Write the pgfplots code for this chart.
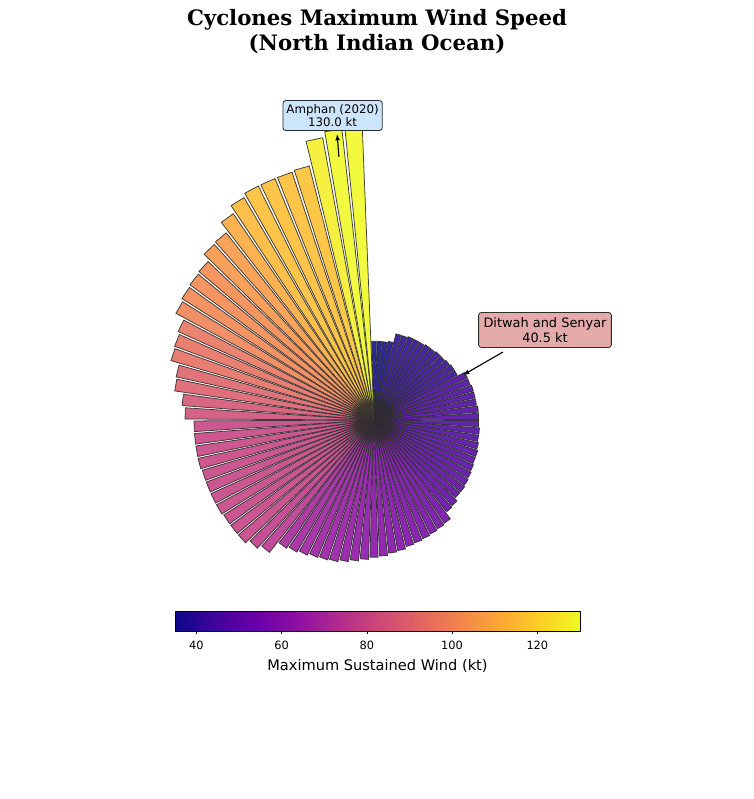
\documentclass[border=0pt]{standalone}
\usepackage{fontspec}
\setmainfont{DejaVu Sans}
\newfontfamily\titlefont{DejaVu Serif}
\usepackage{pgfplots}
\usepackage{pgfplotstable}
\pgfplotsset{compat=1.18}
\usetikzlibrary{arrows.meta}

% plasma stops
\definecolor{pl0}{RGB}{13,8,135}
\definecolor{pl1}{RGB}{65,4,157}
\definecolor{pl2}{RGB}{106,0,168}
\definecolor{pl3}{RGB}{143,13,164}
\definecolor{pl4}{RGB}{177,42,144}
\definecolor{pl5}{RGB}{204,71,120}
\definecolor{pl6}{RGB}{225,100,98}
\definecolor{pl7}{RGB}{242,132,75}
\definecolor{pl8}{RGB}{252,166,54}
\definecolor{pl9}{RGB}{252,206,37}
\definecolor{pl10}{RGB}{240,249,33}
\definecolor{edgecol}{RGB}{45,45,45}
\definecolor{boxblue}{RGB}{204,229,250}
\definecolor{boxred}{RGB}{229,170,170}

\pgfplotsset{colormap={plasma}{rgb255=(13,8,135) rgb255=(65,4,157) rgb255=(106,0,168)
  rgb255=(143,13,164) rgb255=(177,42,144) rgb255=(204,71,120) rgb255=(225,100,98)
  rgb255=(242,132,75) rgb255=(252,166,54) rgb255=(252,206,37) rgb255=(240,249,33)}}

% max sustained wind (kt), sorted; bar i points 4*i degrees clockwise from north
\pgfplotstableread{
bar kt
0 35
1 35
2 35
3 35.5
4 39.5
5 39.5
6 40
7 40
8 40
9 40.5
10 40.5
11 41
12 41
13 41.5
14 42
15 42
16 45.5
17 45.5
18 46
19 46
20 46
21 46.5
22 46.5
23 46.5
24 47
25 47
26 47.5
27 48
28 48
29 48.5
30 49
31 49.5
32 50
33 50
34 51.5
35 52
36 55.5
37 56
38 56.5
39 57
40 57.5
41 58
42 59
43 59.5
44 60.5
45 61
46 62
47 63
48 64
49 65
50 65.5
51 66
52 67
53 68
54 69
55 75
56 77
57 79
58 79
59 79
60 79.5
61 79.5
62 79.5
63 79.5
64 80
65 80
66 80
67 80
68 84
69 85.5
70 89.5
71 90
72 94
73 94.5
74 95.5
75 100
76 101
77 101.5
78 102
79 105.5
80 106
81 111
82 114.5
83 116
84 116
85 116
86 116.5
87 127.5
88 130
89 130
}\winds

\begin{document}
\begin{tikzpicture}
\path[use as bounding box] (0,0) rectangle (542.88pt,575.28pt);

\node[font=\titlefont\bfseries\fontsize{15.3}{18}\selectfont, align=center]
  at (271.44pt,552.6pt) {Cyclones Maximum Wind Speed\\(North Indian Ocean)};

\begin{axis}[
  at={(269.28pt,272.88pt)}, anchor=center,
  x=1.62pt, y=1.62pt,
  xmin=-140, xmax=140, ymin=-140, ymax=140,
  hide axis, clip=false,
  colormap name=plasma,
  point meta min=35, point meta max=130,
  colorbar horizontal,
  colorbar style={
    at={(0.18413,0.19683)}, anchor=north west,
    width=291.6pt, height=14.4pt,
    xtick={40,60,80,100,120},
    xtick pos=left, xticklabel pos=left,
    tick align=outside, major tick length=2.5pt,
    tick style={black, line width=0.5pt},
    axis line style={line width=0.5pt},
    xticklabel style={font=\fontsize{8.2}{9}\selectfont, yshift=-1.5pt},
    /pgf/number format/assume math mode=true,
    xlabel={Maximum Sustained Wind (kt)},
    xlabel style={font=\fontsize{10.5}{12}\selectfont, yshift=0pt},
  },
]
\pgfplotsforeachungrouped \i in {0,...,89}{%
  \pgfplotstablegetelem{\i}{kt}\of\winds
  \let\val=\pgfplotsretval
  \pgfmathsetmacro\tha{4*\i-1.7}%
  \pgfmathsetmacro\thb{4*\i+1.7}%
  \pgfmathsetmacro\xa{\val*sin(\tha)}%
  \pgfmathsetmacro\ya{\val*cos(\tha)}%
  \pgfmathsetmacro\xb{\val*sin(\thb)}%
  \pgfmathsetmacro\yb{\val*cos(\thb)}%
  \pgfmathsetmacro\tpos{max(0,min(9.9999,(\val-35)/95*10))}%
  \pgfmathtruncatemacro\segA{floor(\tpos)}%
  \pgfmathtruncatemacro\segB{\segA+1}%
  \pgfmathsetmacro\frc{(\tpos-\segA)*100}%
  \colorlet{bar\i}{pl\segB!\frc!pl\segA}%
  \edef\cmd{\noexpand\addplot[fill=bar\i, draw=edgecol, line width=0.55pt,
    fill opacity=0.87, draw opacity=0.9]
    coordinates {(0,0) (\xa,\ya) (\xb,\yb)} -- cycle;}%
  \cmd
}

\node[draw=edgecol, fill=boxblue, rounded corners=2pt, line width=0.6pt,
  align=center, font=\fontsize{8.5}{10}\selectfont, inner sep=2.5pt]
  at (axis cs:-18.4,135.3) {Amphan (2020)\\130.0 kt};
\draw[-{Latex[length=4.5pt,width=3.5pt]}, line width=0.8pt]
  (axis cs:-15.6,116.9) -- (axis cs:-16.4,127.1);

\node[draw=edgecol, fill=boxred, rounded corners=2pt, line width=0.6pt,
  align=center, font=\fontsize{9.3}{11}\selectfont, inner sep=3.5pt]
  at (axis cs:76,40) {Ditwah and Senyar\\40.5 kt};
\draw[-{Latex[length=4.5pt,width=3.5pt]}, line width=0.8pt]
  (axis cs:57.3,30.2) -- (axis cs:39.6,20);
\end{axis}
\end{tikzpicture}
\end{document}
